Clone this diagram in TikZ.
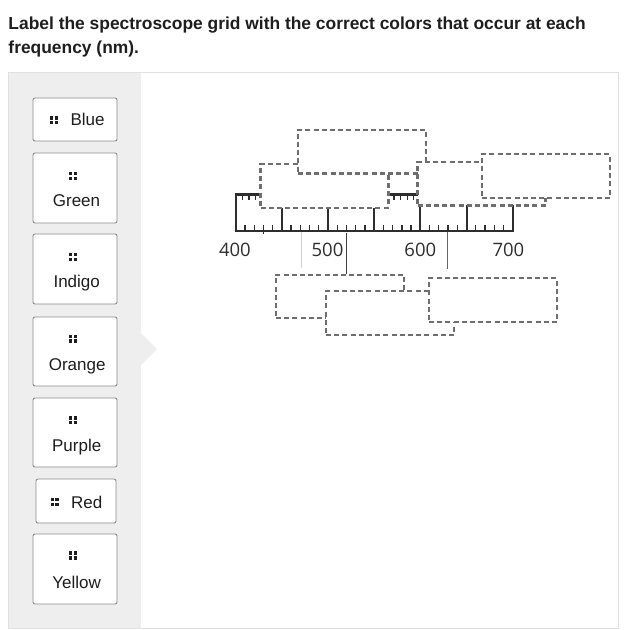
\documentclass[tikz,border=0pt]{standalone}
\usepackage{fontspec}
\setmainfont{Liberation Sans}
\newfontfamily\numfont{Open Sans}
\definecolor{framec}{HTML}{E0E0E0}
\definecolor{panelc}{HTML}{EEEEEE}
\definecolor{btnborder}{HTML}{8C8C8C}
\definecolor{dashc}{HTML}{6E6E6E}
\definecolor{rulec}{HTML}{2E2E2E}
\definecolor{txtc}{HTML}{1E1E1E}
\tikzset{
  btn/.style={draw=btnborder, line width=0.9pt, rounded corners=2pt, fill=white, minimum width=84pt, inner sep=0pt},
  btnlbl/.style={inner sep=0pt, text=txtc, font=\fontsize{17}{20}\selectfont},
  dbox/.style={draw=dashc, line width=2.1pt, dash pattern=on 5pt off 3.2pt, fill=white, minimum width=128pt, minimum height=43.5pt, inner sep=0pt},
  rulerline/.style={draw=rulec, line width=2.2pt},
  majortick/.style={draw=rulec, line width=2pt},
  minortick/.style={draw=rulec, line width=1.3pt},
  numlbl/.style={inner sep=0pt, anchor=base, text=rulec, font=\numfont\fontsize{18.5}{20}\selectfont},
  grip/.pic={
    \fill[txtc] (-4.2,-4.1) rectangle (-0.7,-0.6);
    \fill[txtc] (0.7,-4.1) rectangle (4.2,-0.6);
    \fill[txtc] (-4.2,0.6) rectangle (-0.7,4.1);
    \fill[txtc] (0.7,0.6) rectangle (4.2,4.1);
  }
}
\begin{document}
\begin{tikzpicture}[x=1pt,y=-1pt]
\useasboundingbox (0,0) rectangle (631,629);
\fill[white] (0,0) rectangle (631,629);
% title
\node[anchor=base west, inner sep=0pt, text=txtc, font=\bfseries\fontsize{17.4}{24}\selectfont] (title1) at (8.3,29.3) {Label the spectroscope grid with the correct colors that occur at each};
\node[anchor=base west, inner sep=0pt, text=txtc, font=\bfseries\fontsize{17.4}{24}\selectfont] (title2) at (8.3,53.5) {frequency (nm).};
% frame and panel
\draw[framec, line width=1pt] (8.5,72.5) rectangle (618.5,628);
\fill[panelc] (9,73) rectangle (141,627.5);
\fill[panelc] (141,333) -- (157,349) -- (141,365) -- cycle;
% buttons
\node[btn, minimum height=43pt] (bblue) at (75,119.5) {};
\pic at (53.8,120.2) {grip};
\node[btnlbl, anchor=base west] (tblue) at (70.3,125.3) {Blue};

\node[btn, minimum height=70pt] (bgreen) at (75,188) {};
\pic at (72.8,176) {grip};
\node[btnlbl, anchor=base] (tgreen) at (76.5,206.7) {Green};

\node[btn, minimum height=70pt] (bindigo) at (75,269) {};
\pic at (72.8,257) {grip};
\node[btnlbl, anchor=base] (tindigo) at (76.7,287.3) {Indigo};

\node[btn, minimum height=69pt] (borange) at (75,351.5) {};
\pic at (72.8,338.8) {grip};
\node[btnlbl, anchor=base] (torange) at (77.2,370.2) {Orange};

\node[btn, minimum height=69pt] (bpurple) at (75,432.5) {};
\pic at (72.8,420.2) {grip};
\node[btnlbl, anchor=base] (tpurple) at (76.7,451.7) {Purple};

\node[btn, minimum width=80pt, minimum height=44pt] (bred) at (76,501) {};
\pic at (54.7,502) {grip};
\node[btnlbl, anchor=base west] (tred) at (71,508.3) {Red};

\node[btn, minimum height=70pt] (byellow) at (75,569) {};
\pic at (72.8,555.5) {grip};
\node[btnlbl, anchor=base] (tyellow) at (76.7,588.3) {Yellow};

% ruler
\foreach \i in {0,...,6}{
  \draw[majortick] ({235.7+\i*46.1667},194.5) -- ({235.7+\i*46.1667},230.7);
}
\draw[rulerline] (234.6,194.5) -- (513.8,194.5);
\draw[rulerline] (234.6,230.7) -- (513.8,230.7);
\foreach \k in {1,...,29}{
  \pgfmathtruncatemacro\mm{mod(\k,5)}
  \ifnum\mm>0
    \draw[minortick] ({235.7+\k*9.2333},230.7) -- ({235.7+\k*9.2333},225.3);
  \fi
}
\draw[minortick] (263.4,230.7) -- (263.4,233.8);
\foreach \k in {1,...,41}{
  \pgfmathtruncatemacro\mm{mod(\k,7)}
  \ifnum\mm>0
    \draw[minortick] ({235.7+\k*6.5952},194.5) -- ({235.7+\k*6.5952},199.8);
  \fi
}
% numbers
\node[numlbl] (n400) at (234.9,256.7) {400};
\node[numlbl] (n500) at (327.5,256.7) {500};
\node[numlbl] (n600) at (420.3,256.7) {600};
\node[numlbl] (n700) at (508.4,256.7) {700};
% leader lines
\coordinate (s1) at (301,231.5);
\coordinate (e1) at (301,268);
\coordinate (s2) at (346.7,232.5);
\coordinate (e2) at (346.7,274.3);
\coordinate (s3) at (447,232);
\coordinate (e3) at (447,269);
\draw[draw=black!18, line width=1pt] (s1) -- (e1);
\draw[draw=black!75, line width=1pt] (s2) -- (e2);
\draw[draw=black!60, line width=1pt] (s3) -- (e3);
% dashed drop boxes (stacking order)
\node[dbox] (b2) at (324.5,185.9) {};
\node[dbox] (b1) at (361.8,151.7) {};
\node[dbox] (b3) at (481.5,183.7) {};
\node[dbox] (b4) at (545.8,176) {};
\node[dbox] (b5) at (340,296.3) {};
\node[dbox] (b6) at (390,313) {};
\node[dbox] (b7) at (493,300) {};
\end{tikzpicture}
\end{document}
